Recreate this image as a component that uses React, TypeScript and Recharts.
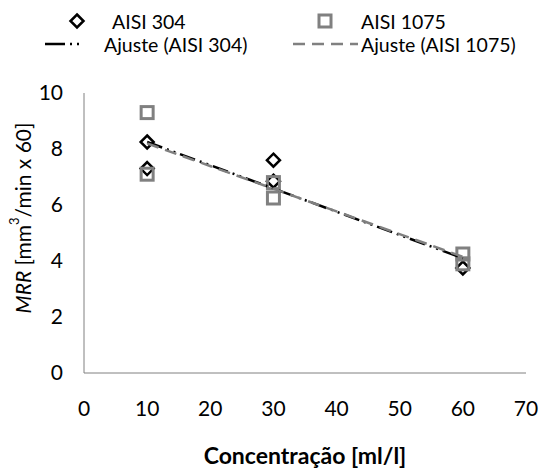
import React from 'react';
import { ScatterChart, Scatter, XAxis, YAxis } from 'recharts';

const aisi304 = [
  { x: 10, y: 8.25 },
  { x: 10, y: 7.3 },
  { x: 30, y: 7.6 },
  { x: 30, y: 6.85 },
  { x: 60, y: 3.75 },
];
const aisi1075 = [
  { x: 10, y: 9.3 },
  { x: 10, y: 7.1 },
  { x: 30, y: 6.8 },
  { x: 30, y: 6.25 },
  { x: 60, y: 4.25 },
  { x: 60, y: 3.9 },
];
// linear fits (end points)
const fit304 = [
  { x: 10, y: 8.25 },
  { x: 60, y: 4.1 },
];
const fit1075 = [
  { x: 10, y: 8.2 },
  { x: 60, y: 4.15 },
];
const xTicks = [0, 10, 20, 30, 40, 50, 60, 70];
const yTicks = [0, 2, 4, 6, 8, 10];

const FONT = 'Lato, sans-serif';
const BLACK = '#000000';
const GRAY = '#808080';
const DASH304 = '16 5 2 5 2 5';
const DASH1075 = '12 7';

const Diamond = (props: any) => {
  const { cx, cy } = props;
  const r = 6.5;
  return (
    <path
      d={`M${cx},${cy - r}L${cx + r},${cy}L${cx},${cy + r}L${cx - r},${cy}Z`}
      fill="none"
      stroke={BLACK}
      strokeWidth={2.5}
    />
  );
};

const Square = (props: any) => {
  const { cx, cy } = props;
  const s = 6;
  return <rect x={cx - s} y={cy - s} width={s * 2} height={s * 2} fill="none" stroke={GRAY} strokeWidth={3} />;
};

const NoDot = () => null;

const YTitle = (props: any) => {
  const { viewBox } = props;
  const cx = viewBox.x - 2;
  const cy = 218;
  return (
    <text x={cx} y={cy} transform={`rotate(-90 ${cx} ${cy})`} textAnchor="middle" dominantBaseline="central"
      fontFamily={FONT} fontSize={21} fill="#000">
      <tspan fontStyle="italic">MRR</tspan>
      <tspan> [mm</tspan>
      <tspan fontSize={13} dy={-8}>3</tspan>
      <tspan dy={8}>/min x 60]</tspan>
    </text>
  );
};

const Legend = () => (
  <svg width={541} height={70} style={{ position: 'absolute', left: 0, top: 0 }}>
    <g fontFamily={FONT} fontSize={19.5} fill="#000">
      <path d="M77,14.5L83.5,21L77,27.5L70.5,21Z" fill="none" stroke={BLACK} strokeWidth={2.5} />
      <text x={112} y={21} dominantBaseline="central">AISI 304</text>
      <rect x={319} y={15} width={12} height={12} fill="none" stroke={GRAY} strokeWidth={3} />
      <text x={361} y={21} dominantBaseline="central">AISI 1075</text>
      <line x1={45} y1={44} x2={83} y2={44} stroke={BLACK} strokeWidth={2.5} strokeDasharray="20 5 2 5 2 5" />
      <text x={104} y={44} dominantBaseline="central">Ajuste (AISI 304)</text>
      <line x1={293} y1={44} x2={358} y2={44} stroke={GRAY} strokeWidth={2.5} strokeDasharray={DASH1075} />
      <text x={361} y={44} dominantBaseline="central">Ajuste (AISI 1075)</text>
    </g>
  </svg>
);

export default function App() {
  return (
    <div style={{ position: 'absolute', left: 0, top: 0, width: 541, height: 470, background: '#fff' }}>
      <ScatterChart width={541} height={470} margin={{ top: 93, right: 15, bottom: 0, left: 24 }}>
        <XAxis
          type="number"
          dataKey="x"
          domain={[0, 70]}
          ticks={xTicks}
          interval={0}
          axisLine={{ stroke: GRAY, strokeWidth: 1 }}
          tickLine={false}
          tickSize={0}
          tickMargin={28}
          height={97}
          tick={{ fontFamily: FONT, fontSize: 21, fill: '#000' }}
          label={{
            value: 'Concentração [ml/l]',
            position: 'insideBottom',
            offset: 6,
            style: { fontFamily: FONT, fontSize: 23, fontWeight: 'bold', fill: '#000' },
          }}
        />
        <YAxis
          type="number"
          dataKey="y"
          domain={[0, 10]}
          ticks={yTicks}
          interval={0}
          width={60}
          axisLine={{ stroke: GRAY, strokeWidth: 1 }}
          tickLine={false}
          tickSize={0}
          tickMargin={21}
          tick={{ fontFamily: FONT, fontSize: 21, fill: '#000' }}
          label={<YTitle />}
        />
        <Scatter name="AISI 304" data={aisi304} shape={<Diamond />} isAnimationActive={false} />
        <Scatter name="AISI 1075" data={aisi1075} shape={<Square />} isAnimationActive={false} />
        <Scatter
          name="Ajuste (AISI 304)"
          data={fit304}
          shape={<NoDot />}
          line={{ stroke: BLACK, strokeWidth: 2.5, strokeDasharray: DASH304 }}
          isAnimationActive={false}
        />
        <Scatter
          name="Ajuste (AISI 1075)"
          data={fit1075}
          shape={<NoDot />}
          line={{ stroke: GRAY, strokeWidth: 2.5, strokeDasharray: DASH1075 }}
          isAnimationActive={false}
        />
      </ScatterChart>
      <Legend />
    </div>
  );
}
